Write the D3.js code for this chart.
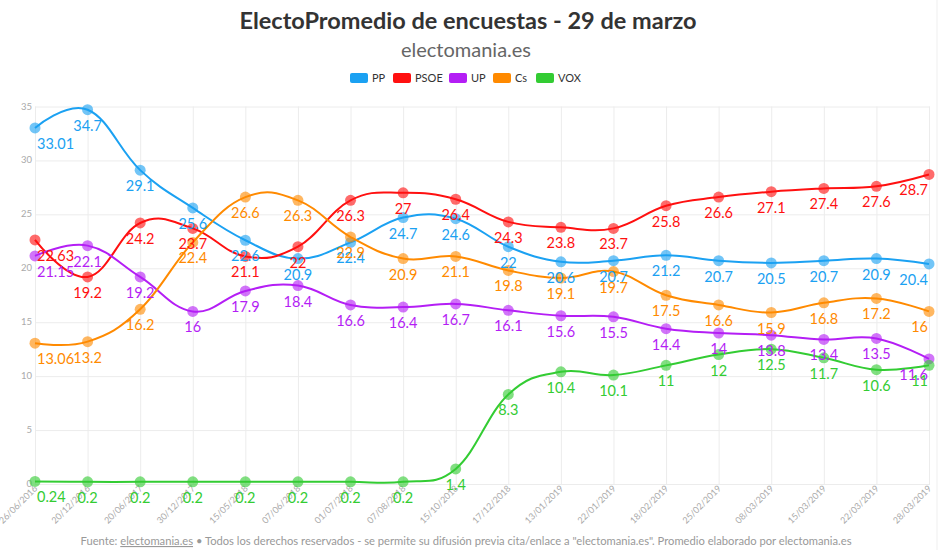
<!DOCTYPE html>
<html>
<head>
<meta charset="utf-8">
<script src="https://cdn.jsdelivr.net/npm/d3@7.9.0/dist/d3.min.js"></script>
<style>
  body { margin: 0; background: #fff; }
  svg { font-family: Lato, "Open Sans", sans-serif; }
</style>
</head>
<body>
<svg id="chart" width="940" height="550"></svg>
<script>
// fechas de cada promedio
const dates = ['26/06/2016', '20/12/2016', '20/06/2017', '30/12/2017', '15/05/2018', '07/06/2018',
  '01/07/2018', '07/08/2018', '15/10/2018', '17/12/2018', '13/01/2019', '22/01/2019',
  '18/02/2019', '25/02/2019', '08/03/2019', '15/03/2019', '22/03/2019', '28/03/2019'];

const pp   = [33.01, 34.7, 29.1, 25.6, 22.6, 20.9, 22.4, 24.7, 24.6, 22, 20.6, 20.7, 21.2, 20.7, 20.5, 20.7, 20.9, 20.4];
const psoe = [22.63, 19.2, 24.2, 23.7, 21.1, 22, 26.3, 27, 26.4, 24.3, 23.8, 23.7, 25.8, 26.6, 27.1, 27.4, 27.6, 28.7];
const up   = [21.15, 22.1, 19.2, 16, 17.9, 18.4, 16.6, 16.4, 16.7, 16.1, 15.6, 15.5, 14.4, 14, 13.8, 13.4, 13.5, 11.6];
const cs   = [13.06, 13.2, 16.2, 22.4, 26.6, 26.3, 22.9, 20.9, 21.1, 19.8, 19.1, 19.7, 17.5, 16.6, 15.9, 16.8, 17.2, 16];
const vox  = [0.24, 0.2, 0.2, 0.2, 0.2, 0.2, 0.2, 0.2, 1.4, 8.3, 10.4, 10.1, 11, 12, 12.5, 11.7, 10.6, 11];

const parties = ['PP', 'PSOE', 'UP', 'Cs', 'VOX'];
const colors = ['#1ba1f2', '#ff1010', '#b41ef5', '#ff8a00', '#33cc33'];
const yTicks = [0, 5, 10, 15, 20, 25, 30, 35];

const series = [pp, psoe, up, cs, vox].map((values, i) => ({ name: parties[i], color: colors[i], values }));

const svg = d3.select('#chart');
const plotLeft = 35, plotRight = 929, plotTop = 106.5, plotBottom = 484;

const x = d3.scalePoint().domain(dates).range([plotLeft, plotRight]);
const y = d3.scaleLinear().domain([0, 35]).range([plotBottom, plotTop]);

// borde derecho
svg.append('line').attr('x1', 937).attr('x2', 937).attr('y1', 0).attr('y2', 550)
  .attr('stroke', '#efefef');

// titulos
svg.append('text').attr('x', 468).attr('y', 29).attr('text-anchor', 'middle')
  .attr('font-size', 23.5).attr('font-weight', 'bold').attr('fill', '#333')
  .text('ElectoPromedio de encuestas - 29 de marzo');
svg.append('text').attr('x', 466).attr('y', 57).attr('text-anchor', 'middle')
  .attr('font-size', 20).attr('fill', '#666')
  .text('electomania.es');

// leyenda
const legendX = [350, 393, 449, 493, 536];
const legend = svg.append('g');
parties.forEach((p, i) => {
  const g = legend.append('g').attr('transform', `translate(${legendX[i]},73)`);
  g.append('rect').attr('width', 18).attr('height', 10).attr('rx', 2).attr('fill', colors[i]);
  g.append('text').attr('x', 22).attr('y', 9).attr('font-size', 11).attr('fill', '#333').text(p);
});

// rejilla
const grid = svg.append('g');
grid.append('g').attr('transform', `translate(${plotLeft},0)`)
  .call(d3.axisLeft(y).tickValues(yTicks).tickSize(-(plotRight - plotLeft + 1)).tickFormat(''))
  .call(g => g.select('.domain').remove())
  .call(g => g.selectAll('line').attr('stroke', '#ececec'));
grid.append('g').attr('transform', `translate(0,${plotBottom})`)
  .call(d3.axisBottom(x).tickSize(-(plotBottom - plotTop)).tickFormat(''))
  .call(g => g.select('.domain').remove())
  .call(g => g.selectAll('line').attr('stroke', '#ececec'));

// etiquetas del eje Y
svg.append('g').selectAll('text').data(yTicks).join('text')
  .attr('x', 32).attr('y', d => y(d) + 3).attr('text-anchor', 'end')
  .attr('font-size', 9.5).attr('fill', '#aaa').text(d => d);

// etiquetas del eje X
svg.append('g').selectAll('text').data(dates).join('text')
  .attr('transform', d => `translate(${x(d) + 3},${plotBottom + 5}) rotate(-45)`)
  .attr('text-anchor', 'end').attr('font-size', 9).attr('fill', '#aaa').text(d => d);

// lineas
const line = d3.line()
  .x((d, i) => x(dates[i]))
  .y(d => y(d))
  .curve(d3.curveCardinal.tension(-0.2));

series.forEach(s => {
  const g = svg.append('g');
  g.append('path').attr('d', line(s.values)).attr('fill', 'none')
    .attr('stroke', s.color).attr('stroke-width', 2);
  g.selectAll('circle').data(s.values).join('circle')
    .attr('cx', (d, i) => x(dates[i])).attr('cy', d => y(d)).attr('r', 5.5)
    .attr('fill', s.color).attr('fill-opacity', 0.62);
});

// etiquetas de datos
series.forEach(s => {
  svg.append('g').selectAll('text').data(s.values).join('text')
    .attr('x', (d, i) => x(dates[i])).attr('y', d => y(d) + 21)
    .attr('text-anchor', 'middle').attr('font-size', 14.5).attr('fill', s.color)
    .text(d => d)
    .each(function () {
      // mantener dentro del area del grafico
      const w = this.getComputedTextLength();
      const cx = +this.getAttribute('x');
      if (cx - w / 2 < plotLeft + 2) this.setAttribute('x', plotLeft + 2 + w / 2);
      if (cx + w / 2 > plotRight - 1) this.setAttribute('x', plotRight - 1 - w / 2);
    });
});

// pie
const foot = svg.append('text').attr('x', 466).attr('y', 545).attr('text-anchor', 'middle')
  .attr('font-size', 11.2).attr('fill', '#999');
foot.append('tspan').text('Fuente: ');
foot.append('tspan').attr('text-decoration', 'underline').text('electomania.es');
foot.append('tspan').text(' \u2022 Todos los derechos reservados - se permite su difusión previa cita/enlace a "electomania.es". Promedio elaborado por electomania.es');
</script>
</body>
</html>
